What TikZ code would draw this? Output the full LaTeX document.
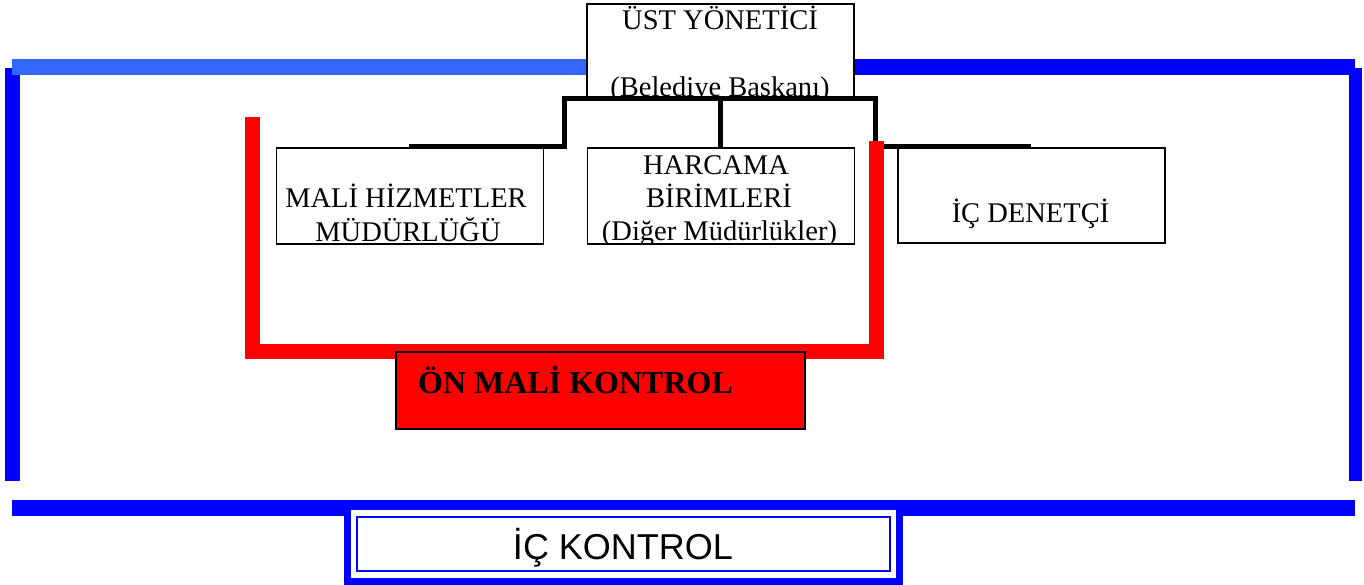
\documentclass[tikz,border=0pt]{standalone}
\usepackage{fontspec}
\setmainfont{Liberation Serif}
\newfontfamily\arialfont{Liberation Sans}
\definecolor{pureblue}{HTML}{0000FF}
\definecolor{lightblue}{HTML}{3366FF}
\definecolor{purered}{HTML}{FF0000}
\begin{document}
\begin{tikzpicture}[x=1pt,y=-1pt,
  box/.style={draw=black, line width=1.8pt, fill=white, inner sep=0pt, anchor=north west},
  txt/.style={inner sep=0pt, anchor=base, font=\fontsize{28.5pt}{33pt}\selectfont},
  conn/.style={draw=black, line width=5pt, line cap=rect, line join=miter},
  redline/.style={draw=purered, line width=15pt, line join=miter},
  blueline/.style={draw=pureblue, line width=16pt},
]
\useasboundingbox (0,0) rectangle (1364,585);

% outer blue frame
\coordinate (lt) at (12,68);
\coordinate (lb) at (12,481);
\coordinate (rt) at (1355,68);
\coordinate (rb) at (1355,481);
\draw[blueline, line width=15pt] (lt) -- (lb);
\draw[blueline, line width=13pt] (rt) -- (rb);
\coordinate (tl) at (12,67);
\coordinate (tr) at (1355,67);
\coordinate (bl) at (12,507.5);
\coordinate (br) at (1355,507.5);
\draw[blueline] (bl) -- (br);

% boxes
\node[box, minimum width=267pt, minimum height=95pt] (top) at (586,3) {};
\draw[blueline, draw=lightblue] (tl) -- (top.west |- tl);
\draw[blueline] (top.east |- tr) -- (tr);

% red U
\coordinate (r1) at (252,117);
\coordinate (r2) at (252,351);
\coordinate (r3) at (876,351);
\coordinate (r4) at (876,141);
\draw[redline] (r1) -- (r2) -- (r3) -- (r4);

\node[box, minimum width=267pt, minimum height=96pt] (mali) at (275.5,147) {};
\node[box, minimum width=267pt, minimum height=96pt] (harc) at (586.5,147) {};
\node[box, minimum width=267pt, minimum height=95pt] (denet) at (897,147) {};

% texts in boxes (clipped at box bottom)
\begin{scope}
\clip (586,3) rectangle (853,97);
\node[txt] (t1) at (720,29.3) {ÜST YÖNETİCİ};
\node[txt] (t2) at (720,96.7) {(Belediye Baskanı)};
\end{scope}
\begin{scope}
\clip (275.5,147) rectangle (542.5,242.5);
\node[txt] (m1) at (406,208) {MALİ HİZMETLER};
\node[txt] (m2) at (408,241.7) {MÜDÜRLÜĞÜ};
\end{scope}
\begin{scope}
\clip (586.5,147) rectangle (853.5,242.5);
\node[txt] (h1) at (716,175) {HARCAMA};
\node[txt] (h2) at (719,208) {BİRİMLERİ};
\node[txt] (h3) at (719.5,240.5) {(Diğer Müdürlükler)};
\end{scope}
\node[txt] (d1) at (1030.5,223) {İÇ DENETÇİ};

% black connectors
\coordinate (c1) at (409,146.5);
\coordinate (c2) at (564,146.5);
\coordinate (c3) at (564,99);
\coordinate (c4) at (875,99);
\coordinate (c5) at (875,146.5);
\coordinate (c6) at (1031,146.5);
\coordinate (c7) at (720,99);
\draw[conn, line cap=butt] (c1) -- (c2) -- (c3) -- (c4) -- (c5) -- (c6);
\draw[conn, line cap=butt] (c7) -- (harc.north -| c7);
\draw[redline] (876,160) -- (r4);

% on mali kontrol
\node[box, fill=purered, minimum width=409pt, minimum height=77pt] (onmali) at (395,351) {};
\node[inner sep=0pt, anchor=base west, font=\bfseries\fontsize{32pt}{36pt}\selectfont] (onmalit) at (418,393) {ÖN MALİ KONTROL};

% ic kontrol
\node[draw=pureblue, line width=7pt, fill=white, inner sep=0pt, minimum width=552pt, minimum height=74.5pt] (icframe) at (623.5,543.75) {};
\node[draw=pureblue, line width=1.5pt, inner sep=0pt, minimum width=533pt, minimum height=54pt] (icinner) at (623.5,544) {};
\node[inner sep=0pt, anchor=base, font=\arialfont\fontsize{36pt}{40pt}\selectfont] (ict) at (623,559) {İÇ KONTROL};
\end{tikzpicture}
\end{document}
